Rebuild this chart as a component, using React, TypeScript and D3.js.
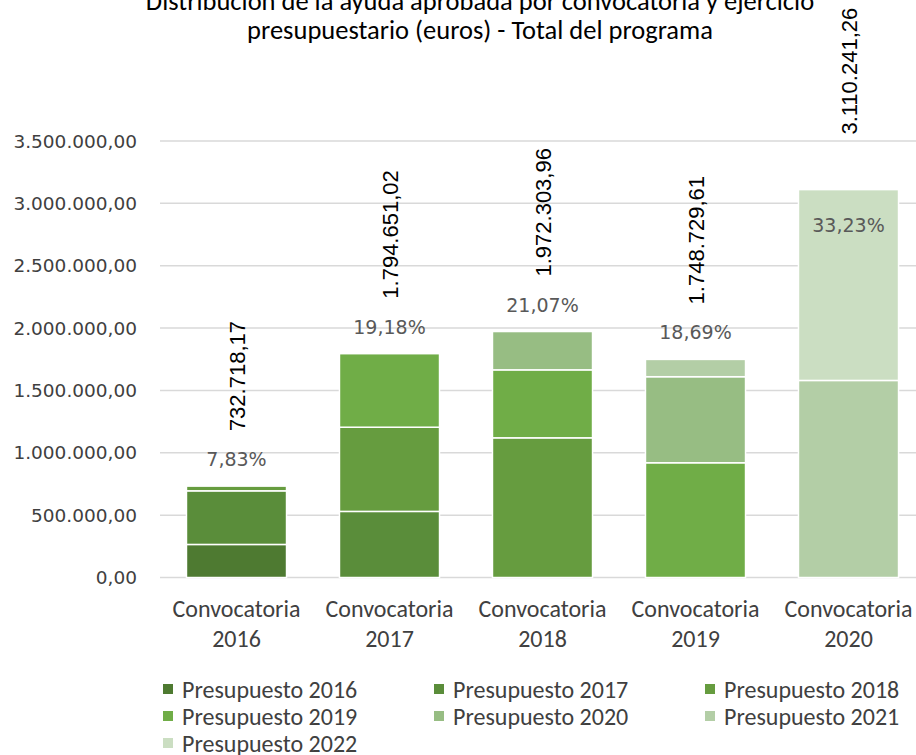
import React from "react";
import * as d3 from "d3";

const titleLines = [
  "Distribución de la ayuda aprobada por convocatoria y ejercicio",
  "presupuestario (euros) - Total del programa",
];
const categories = ["Convocatoria 2016", "Convocatoria 2017", "Convocatoria 2018", "Convocatoria 2019", "Convocatoria 2020"];
const seriesNames = [
  "Presupuesto 2016",
  "Presupuesto 2017",
  "Presupuesto 2018",
  "Presupuesto 2019",
  "Presupuesto 2020",
  "Presupuesto 2021",
  "Presupuesto 2022",
];
const p2016 = [265000, 0, 0, 0, 0];
const p2017 = [430000, 530000, 0, 0, 0];
const p2018 = [37718.17, 675000, 1120000, 0, 0];
const p2019 = [0, 589651.02, 545000, 920000, 0];
const p2020 = [0, 0, 307303.96, 690000, 0];
const p2021 = [0, 0, 0, 138729.61, 1580000];
const p2022 = [0, 0, 0, 0, 1530241.26];
const seriesValues = [p2016, p2017, p2018, p2019, p2020, p2021, p2022];
const colors = ["#4e7a31", "#5a8d3a", "#669c3f", "#70ad47", "#97bd83", "#b3cea6", "#cbdec2"];
const yTicks = [0, 500000, 1000000, 1500000, 2000000, 2500000, 3000000, 3500000];

const W = 916;
const H = 755;
const calibri = "Carlito, Calibri, Lato, sans-serif";

const locale = d3.formatLocale({ decimal: ",", thousands: ".", grouping: [3], currency: ["", "€"] });
const fmt = locale.format(",.2f");

export default function App() {
  const x = d3.scaleBand<string>().domain(categories).range([160, 925]).paddingInner(0.346).paddingOuter(0.173);
  const y = d3.scaleLinear().domain([0, 3500000]).range([577.5, 141]);

  const rows = categories.map((c, i) => {
    const r: any = { cat: c };
    seriesNames.forEach((s, j) => (r[s] = seriesValues[j][i]));
    return r;
  });
  const stacked = d3.stack().keys(seriesNames)(rows);
  const totals = categories.map((_, i) => d3.sum(seriesValues, (s) => s[i]));
  const grand = d3.sum(totals);

  const legendCols = [163, 434, 705];
  const legendRows = [689, 716, 743];

  return (
    <svg width={W} height={H} style={{ position: "absolute", left: 0, top: 0, background: "#fff" }}>
      {titleLines.map((t, i) => (
        <text key={i} x={480} y={10 + i * 29} textAnchor="middle" fontFamily={calibri} fontWeight={400} fontSize={26.5} fill="#000">
          {t}
        </text>
      ))}
      {yTicks.map((t) => (
        <g key={t}>
          <line x1={160} x2={W} y1={y(t)} y2={y(t)} stroke="#d9d9d9" strokeWidth={1.5} />
          <text x={137} y={y(t)} textAnchor="end" dominantBaseline="central" fontFamily="DejaVu Sans, sans-serif" fontSize={18.5} fill="#404040">
            {fmt(t)}
          </text>
        </g>
      ))}
      {stacked.map((layer, j) =>
        layer.map((d, i) =>
          d[1] - d[0] > 0 ? (
            <rect
              key={j + "-" + i}
              x={x(categories[i])}
              width={x.bandwidth()}
              y={y(d[1])}
              height={y(d[0]) - y(d[1])}
              fill={colors[j]}
              stroke="#fff"
              strokeWidth={1.5}
            />
          ) : null
        )
      )}
      {categories.map((c, i) => {
        const cx = (x(c) as number) + x.bandwidth() / 2;
        const top = y(totals[i]);
        const inside = totals[i] > 3000000;
        const pct = locale.format(",.2f")((totals[i] / grand) * 100) + "%";
        const parts = c.split(" ");
        return (
          <g key={c}>
            <text
              transform={`translate(${cx + 8},${top - 55}) rotate(-90)`}
              textAnchor="start"
              fontFamily="Liberation Sans, Arial, sans-serif"
              fontSize={22}
              fill="#000"
            >
              {fmt(totals[i])}
            </text>
            <text
              x={cx}
              y={inside ? top + 35 : top - 27}
              textAnchor="middle"
              dominantBaseline="central"
              fontFamily="DejaVu Sans, sans-serif"
              fontSize={19}
              fill="#595959"
            >
              {pct}
            </text>
            {parts.map((p, k) => (
              <text key={k} x={cx} y={608 + k * 30} textAnchor="middle" dominantBaseline="central" fontFamily={calibri} fontSize={24} fill="#404040">
                {p}
              </text>
            ))}
          </g>
        );
      })}
      {seriesNames.map((s, j) => {
        const col = j % 3;
        const row = Math.floor(j / 3);
        return (
          <g key={s}>
            <rect x={legendCols[col]} y={legendRows[row] - 5} width={10} height={10} fill={colors[j]} />
            <text x={legendCols[col] + 19} y={legendRows[row]} dominantBaseline="central" fontFamily={calibri} fontSize={24} fill="#404040">
              {s}
            </text>
          </g>
        );
      })}
    </svg>
  );
}
